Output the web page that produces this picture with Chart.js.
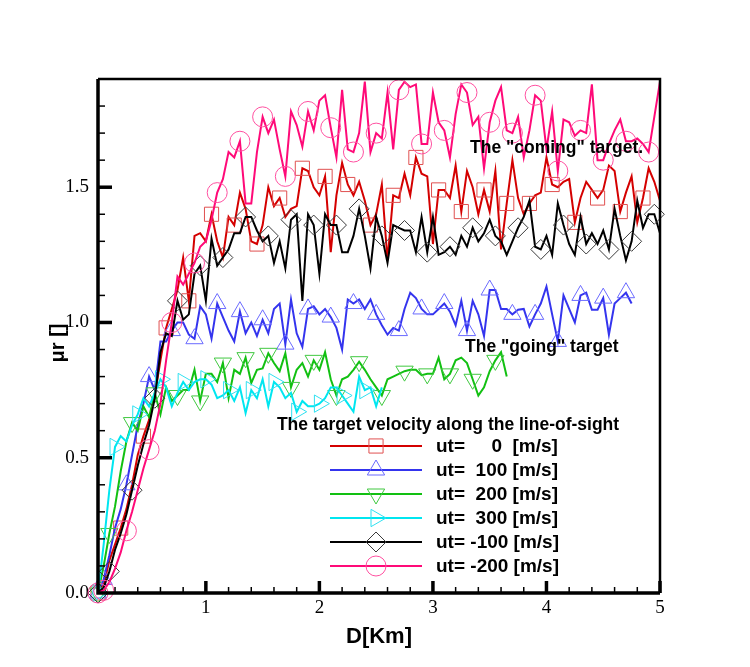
<!DOCTYPE html>
<html>
<head>
<meta charset="utf-8">
<script src="https://cdn.jsdelivr.net/npm/chart.js@4.4.0/dist/chart.umd.min.js"></script>
<style>
  html, body { margin: 0; padding: 0; background: #fff; }
</style>
</head>
<body>
<canvas id="myChart" width="750" height="667"></canvas>
<script>
// Дистанция D [км] — общая ось для всех кривых
var distance = [
  0.05, 0.10, 0.15, 0.20, 0.25, 0.30, 0.35, 0.40, 0.45, 0.50,
  0.55, 0.60, 0.65, 0.70, 0.75, 0.80, 0.85, 0.90, 0.95, 1.00,
  1.05, 1.10, 1.15, 1.20, 1.25, 1.30, 1.35, 1.40, 1.45, 1.50,
  1.55, 1.60, 1.65, 1.70, 1.75, 1.80, 1.85, 1.90, 1.95, 2.00,
  2.05, 2.10, 2.15, 2.20, 2.25, 2.30, 2.35, 2.40, 2.45, 2.50,
  2.55, 2.60, 2.65, 2.70, 2.75, 2.80, 2.85, 2.90, 2.95, 3.00,
  3.05, 3.10, 3.15, 3.20, 3.25, 3.30, 3.35, 3.40, 3.45, 3.50,
  3.55, 3.60, 3.65, 3.70, 3.75, 3.80, 3.85, 3.90, 3.95, 4.00,
  4.05, 4.10, 4.15, 4.20, 4.25, 4.30, 4.35, 4.40, 4.45, 4.50,
  4.55, 4.60, 4.65, 4.70, 4.75, 4.80, 4.85, 4.90, 4.95, 5.00
];

// ut = 0 м/с
var ut0 = [
  0.00, 0.03, 0.12, 0.18, 0.24, 0.31, 0.40, 0.51, 0.58, 0.64,
  0.73, 0.86, 0.98, 1.05, 1.12, 1.24, 1.08, 1.32, 1.33, 1.30,
  1.40, 1.30, 1.24, 1.39, 1.36, 1.48, 1.42, 1.30, 1.29, 1.36,
  1.50, 1.43, 1.46, 1.39, 1.42, 1.43, 1.57, 1.56, 1.50, 1.47,
  1.54, 1.26, 1.47, 1.59, 1.51, 1.47, 1.52, 1.45, 1.36, 1.40,
  1.51, 1.23, 1.47, 1.46, 1.55, 1.47, 1.61, 1.55, 1.54, 1.29,
  1.49, 1.49, 1.46, 1.58, 1.41, 1.56, 1.50, 1.40, 1.49, 1.41,
  1.56, 1.27, 1.44, 1.60, 1.46, 1.40, 1.44, 1.47, 1.48, 1.61,
  1.51, 1.50, 1.52, 1.53, 1.37, 1.46, 1.52, 1.49, 1.46, 1.49,
  1.58, 1.56, 1.41, 1.48, 1.54, 1.37, 1.46, 1.57, 1.52, 1.45
];

// ut = 100 м/с
var ut100 = [
  0.00, 0.05, 0.14, 0.24, 0.31, 0.40, 0.51, 0.62, 0.70, 0.80,
  0.75, 0.93, 0.93, 0.97, 1.00, 1.00, 0.955, 0.94, 1.06, 1.03,
  0.94, 1.07, 1.02, 0.97, 0.93, 1.04, 0.96, 1.00, 0.95, 1.01,
  0.96, 1.05, 1.07, 0.92, 1.085, 0.96, 0.91, 1.05, 1.06, 1.03,
  1.05, 1.02, 0.98, 0.90, 1.085, 1.07, 1.085, 1.05, 1.085, 1.03,
  0.99, 0.955, 0.98, 0.97, 1.05, 1.11, 1.09, 1.05, 1.03, 1.03,
  1.05, 1.07, 1.04, 0.99, 1.08, 0.97, 1.08, 1.03, 0.95, 1.12,
  1.12, 1.05, 1.05, 1.03, 1.047, 1.05, 0.985, 1.03, 1.07, 1.133,
  1.03, 0.93, 1.10, 1.05, 1.00, 1.10, 1.11, 1.047, 1.047, 1.09,
  0.955, 1.07, 1.09, 1.11, 1.07
];

// ut = 200 м/с
var ut200 = [
  0.00, 0.10, 0.22, 0.32, 0.45, 0.56, 0.63, 0.60, 0.69, 0.65,
  0.74, 0.66, 0.76, 0.71, 0.73, 0.75, 0.75, 0.825, 0.71, 0.81,
  0.81, 0.78, 0.85, 0.72, 0.825, 0.81, 0.87, 0.776, 0.825, 0.83,
  0.886, 0.85, 0.82, 0.886, 0.76, 0.825, 0.85, 0.80, 0.86, 0.825,
  0.89, 0.79, 0.73, 0.79, 0.80, 0.825, 0.855, 0.825, 0.79, 0.76,
  0.73, 0.79, 0.80, 0.81, 0.82, 0.825, 0.825, 0.805, 0.81, 0.81,
  0.87, 0.79, 0.81, 0.86, 0.87, 0.85, 0.79, 0.73, 0.76, 0.82,
  0.86, 0.89, 0.80
];

// ut = 300 м/с
var ut300 = [
  0.00, 0.18, 0.38, 0.54, 0.58, 0.56, 0.62, 0.66, 0.72, 0.69,
  0.74, 0.79, 0.76, 0.69, 0.74, 0.78, 0.75, 0.78, 0.79, 0.79,
  0.77, 0.72, 0.73, 0.75, 0.71, 0.76, 0.665, 0.75, 0.72, 0.79,
  0.69, 0.78, 0.76, 0.72, 0.74, 0.67, 0.71, 0.69, 0.69, 0.70,
  0.72, 0.76, 0.76, 0.73, 0.70, 0.67, 0.80, 0.75, 0.76, 0.69,
  0.76
];

// ut = -100 м/с
var utM100 = [
  0.00, 0.02, 0.08, 0.16, 0.22, 0.29, 0.38, 0.47, 0.55, 0.62,
  0.72, 0.89, 0.96, 0.95, 1.08, 1.01, 1.03, 1.18, 1.21, 1.08,
  1.31, 1.21, 1.24, 1.27, 1.33, 1.33, 1.39, 1.39, 1.34, 1.30,
  1.32, 1.22, 1.30, 1.20, 1.38, 1.40, 1.08, 1.40, 1.36, 1.18,
  1.40, 1.36, 1.36, 1.26, 1.26, 1.32, 1.42, 1.32, 1.20, 1.39,
  1.32, 1.22, 1.36, 1.35, 1.34, 1.34, 1.26, 1.39, 1.26, 1.39,
  1.25, 1.26, 1.28, 1.25, 1.32, 1.28, 1.35, 1.30, 1.33, 1.38,
  1.32, 1.30, 1.25, 1.30, 1.35, 1.39, 1.45, 1.28, 1.27, 1.32,
  1.25, 1.44, 1.36, 1.29, 1.25, 1.39, 1.29, 1.33, 1.29, 1.34,
  1.27, 1.42, 1.32, 1.23, 1.30, 1.45, 1.35, 1.40, 1.40, 1.33
];

// ut = -200 м/с
var utM200 = [
  0.00, 0.01, 0.04, 0.09, 0.15, 0.23, 0.30, 0.38, 0.46, 0.53,
  0.60, 0.70, 0.86, 1.00, 1.17, 1.14, 1.18, 1.22, 1.28, 1.30,
  1.38, 1.48, 1.53, 1.63, 1.61, 1.67, 1.44, 1.44, 1.63, 1.76,
  1.70, 1.75, 1.64, 1.54, 1.78, 1.73, 1.65, 1.78, 1.71, 1.82,
  1.84, 1.72, 1.61, 1.86, 1.64, 1.63, 1.70, 1.89, 1.63, 1.70,
  1.68, 1.85, 1.64, 1.86, 1.89, 1.87, 1.88, 1.66, 1.66, 1.85,
  1.74, 1.71, 1.61, 1.77, 1.88, 1.85, 1.73, 1.76, 1.57, 1.74,
  1.82, 1.87, 1.71, 1.70, 1.76, 1.61, 1.71, 1.84, 1.82, 1.64,
  1.78, 1.56, 1.75, 1.74, 1.69, 1.71, 1.70, 1.88, 1.60, 1.60,
  1.66, 1.71, 1.75, 1.67, 1.67, 1.68, 1.66, 1.63, 1.76, 1.89
];

// Подписи легенды и подписи делений
var seriesLabels = ['ut=     0  [m/s]', 'ut=  100 [m/s]', 'ut=  200 [m/s]', 'ut=  300 [m/s]', 'ut= -100 [m/s]', 'ut= -200 [m/s]'];
var yTickValues = [0, 0.5, 1.0, 1.5];
var xTickValues = [1, 2, 3, 4, 5];

// Стиль каждой кривой: цвет линии, цвет маркера, форма маркера
var seriesStyle = [
  { values: ut0,    line: '#d40000', mark: '#e05050', shape: 'rect',     rot: 0,   r: 10, skip: 0 },
  { values: ut100,  line: '#3434ee', mark: '#6a6aff', shape: 'triangle', rot: 0,   r: 10, skip: 1 },
  { values: ut200,  line: '#12c012', mark: '#40c840', shape: 'triangle', rot: 180, r: 10, skip: 2 },
  { values: ut300,  line: '#00e6f0', mark: '#30e0f0', shape: 'triangle', rot: 90,  r: 10, skip: 3 },
  { values: utM100, line: '#000000', mark: '#3a3a3a', shape: 'rectRot',  rot: 0,   r: 10, skip: 2 },
  { values: utM200, line: '#ff0a78', mark: '#ff50a0', shape: 'circle',   rot: 0,   r: 10, skip: 1 }
];

var chartElement = document.getElementById('myChart');

var chartData = {
  datasets: seriesStyle.map(function(s, k) {
    return {
      label: seriesLabels[k],
      data: s.values.map(function(v, i) { return { x: distance[i], y: v }; }),
      borderColor: s.line,
      borderWidth: 2,
      tension: 0,
      fill: false,
      clip: false,
      order: 5 - k,
      pointStyle: s.shape,
      rotation: s.rot,
      pointBackgroundColor: 'rgba(0,0,0,0)',
      pointBorderColor: s.mark,
      pointBorderWidth: 1,
      // маркер ставим не на каждой точке, а на каждой четвёртой
      pointRadius: function(ctx) {
        return (ctx.dataIndex === 0 || ctx.dataIndex % 4 === s.skip) ? s.r : 0;
      },
      pointHoverRadius: 0
    };
  })
};

// Рамка, засечки внутрь, подписи осей, аннотации и легенда
var decorPlugin = {
  id: 'decor',
  afterDraw: function(chart) {
    var ctx = chart.ctx;
    var a = chart.chartArea;
    var xs = chart.scales.x, ys = chart.scales.y;
    ctx.save();
    ctx.strokeStyle = '#000';

    // рамка
    ctx.lineWidth = 2.5;
    ctx.beginPath();
    ctx.moveTo(a.left, a.top); ctx.lineTo(a.right, a.top); ctx.lineTo(a.right, a.bottom);
    ctx.stroke();
    ctx.lineWidth = 3.5;
    ctx.beginPath();
    ctx.moveTo(a.left, a.top); ctx.lineTo(a.left, a.bottom); ctx.lineTo(a.right, a.bottom);
    ctx.stroke();

    // засечки по Y (каждые 0.1, большие через 0.5)
    for (var k = 1; k <= 18; k++) {
      var py = ys.getPixelForValue(k / 10);
      var major = k % 5 === 0;
      ctx.lineWidth = major ? 3.5 : 1.5;
      ctx.beginPath();
      ctx.moveTo(a.left, py); ctx.lineTo(a.left + (major ? 14 : 7), py);
      ctx.stroke();
    }
    // засечки по X (каждые 0.2, большие через 1)
    for (var j = 1; j <= 25; j++) {
      var px = xs.getPixelForValue(j * 0.2);
      var big = j % 5 === 0;
      ctx.lineWidth = big ? 3.5 : 1.5;
      ctx.beginPath();
      ctx.moveTo(px, a.bottom); ctx.lineTo(px, a.bottom - (big ? 12 : 6));
      ctx.stroke();
    }

    // подписи осей
    ctx.fillStyle = '#000';
    ctx.font = 'bold 22px "Liberation Sans", Arial, sans-serif';
    ctx.textAlign = 'center';
    ctx.textBaseline = 'middle';
    ctx.fillText('D[Km]', (a.left + a.right) / 2, 637);
    ctx.save();
    ctx.translate(58, 343);
    ctx.rotate(-Math.PI / 2);
    ctx.font = 'bold 20px "Liberation Sans", Arial, sans-serif';
    ctx.fillText('\u03bcr []', 0, 0);
    ctx.restore();

    // аннотации
    ctx.font = 'bold 17.5px "Liberation Sans", Arial, sans-serif';
    ctx.textAlign = 'left';
    ctx.fillText('The "coming" target.', 470, 148);
    ctx.fillText('The "going" target', 465, 347);

    // легенда
    ctx.textAlign = 'center';
    ctx.fillText('The target velocity along the line-of-sight', 448, 425);
    ctx.font = 'bold 19px "Liberation Sans", Arial, sans-serif';
    ctx.textAlign = 'left';
    seriesStyle.forEach(function(s, k) {
      var ry = 446 + k * 24;
      ctx.strokeStyle = s.line;
      ctx.lineWidth = 2;
      ctx.beginPath(); ctx.moveTo(330, ry); ctx.lineTo(422, ry); ctx.stroke();
      ctx.strokeStyle = s.mark;
      ctx.fillStyle = 'rgba(0,0,0,0)';
      ctx.lineWidth = 1;
      Chart.helpers.drawPoint(ctx, { pointStyle: s.shape, rotation: s.rot, radius: s.r, borderWidth: 1 }, 376, ry);
      ctx.fillStyle = '#000';
      ctx.fillText(seriesLabels[k], 436, ry + 1);
    });
    ctx.restore();
  }
};

var chartOptions = {
  responsive: false,
  animation: false,
  layout: { padding: { left: 0, right: 90, top: 79, bottom: 0 } },
  scales: {
    x: {
      type: 'linear',
      min: 0.05,
      max: 5,
      grid: { display: false, drawTicks: false },
      border: { display: false },
      afterFit: function(scale) { scale.height = 74; },
      afterBuildTicks: function(scale) { scale.ticks = xTickValues.map(function(v) { return { value: v }; }); },
      ticks: {
        padding: 4,
        color: '#000',
        font: { family: '"Liberation Serif", "Times New Roman", serif', size: 19 },
        maxRotation: 0,
        callback: function(v) { return String(v); }
      }
    },
    y: {
      min: 0,
      max: 1.9,
      grid: { display: false, drawTicks: false },
      border: { display: false },
      afterFit: function(scale) { scale.width = 98; },
      afterBuildTicks: function(scale) { scale.ticks = yTickValues.map(function(v) { return { value: v }; }); },
      ticks: {
        padding: 9,
        color: '#000',
        font: { family: '"Liberation Serif", "Times New Roman", serif', size: 19 },
        callback: function(v) { return v.toFixed(1); }
      }
    }
  },
  plugins: {
    legend: { display: false },
    tooltip: { enabled: false }
  }
};

var chart = new Chart(chartElement, {
  type: 'line',
  data: chartData,
  options: chartOptions,
  plugins: [decorPlugin]
});
</script>
</body>
</html>
